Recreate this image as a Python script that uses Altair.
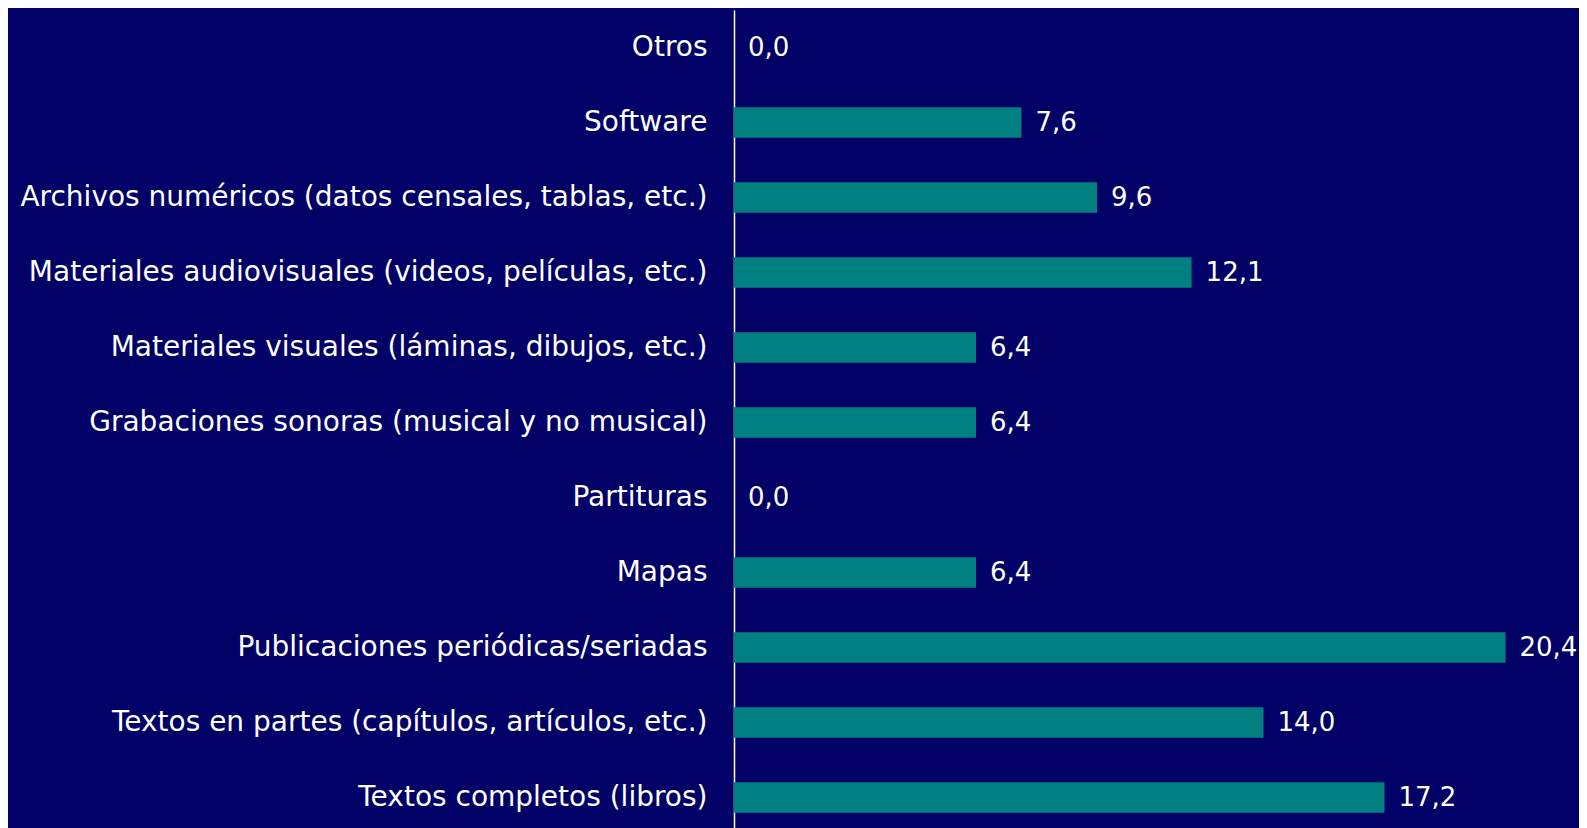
import altair as alt
import pandas as pd

categories = [
    "Otros",
    "Software",
    "Archivos numéricos (datos censales, tablas, etc.)",
    "Materiales audiovisuales (videos, películas, etc.)",
    "Materiales visuales (láminas, dibujos, etc.)",
    "Grabaciones sonoras (musical y no musical)",
    "Partituras",
    "Mapas",
    "Publicaciones periódicas/seriadas",
    "Textos en partes (capítulos, artículos, etc.)",
    "Textos completos (libros)",
]
values = [0.0, 7.6, 9.6, 12.1, 6.4, 6.4, 0.0, 6.4, 20.4, 14.0, 17.2]

df = pd.DataFrame({"categoria": categories, "valor": values})

FONT = "DejaVu Sans"
BG = "#000066"
BAR = "#008080"

y_enc = alt.Y(
    "categoria:N",
    sort=categories,
    title=None,
    scale=alt.Scale(paddingInner=0.595, paddingOuter=0.2975),
    axis=alt.Axis(
        labelColor="white",
        labelFont=FONT,
        labelFontSize=28,
        labelPadding=27,
        labelLimit=0,
        ticks=False,
        domain=True,
        domainColor="white",
        domainWidth=1.5,
        grid=False,
    ),
)
x_enc = alt.X(
    "valor:Q",
    title=None,
    scale=alt.Scale(domain=[0, 22], nice=False),
    axis=None,
)

base = alt.Chart(df)

bars = base.mark_bar(color=BAR).encode(x=x_enc, y=y_enc)

labels = base.transform_calculate(
    txt="replace(format(datum.valor, '.1f'), '.', ',')"
).mark_text(
    align="left", baseline="middle", dx=14, color="white", font=FONT, fontSize=26
).encode(x=x_enc, y=y_enc, text="txt:N")

chart = (
    alt.layer(bars, labels)
    .properties(
        width=832,
        height=825,
        background=BG,
        autosize=alt.AutoSizeParams(type="none"),
        padding={"left": 726, "top": 2, "right": 13, "bottom": 0},
    )
    .configure_view(stroke=None, fill=BG)
)

chart.save("out.html", embed_options={"renderer": "svg", "actions": False})
